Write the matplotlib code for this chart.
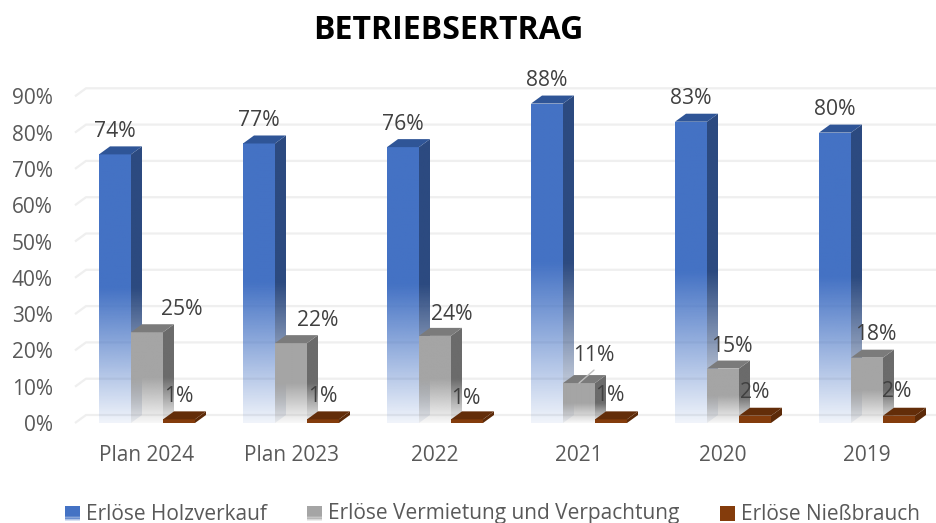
import numpy as np
import matplotlib
matplotlib.use("Agg")
import matplotlib.pyplot as plt
from matplotlib.patches import Polygon, Rectangle, Patch
from matplotlib.colors import to_rgb
from matplotlib.legend_handler import HandlerBase

plt.rcParams['font.family'] = ['Open Sans', 'DejaVu Sans']

title = "BETRIEBSERTRAG"
categories = ["Plan 2024", "Plan 2023", "2022", "2021", "2020", "2019"]
holz = [74, 77, 76, 88, 83, 80]
vermietung = [25, 22, 24, 11, 15, 18]
niessbrauch = [1, 1, 1, 1, 2, 2]
series_names = ["Erlöse Holzverkauf", "Erlöse Vermietung und Verpachtung", "Erlöse Nießbrauch"]
y_ticks = [0, 10, 20, 30, 40, 50, 60, 70, 80, 90]

# styles: front, side, top
styles = [("#4472C4", "#2C4A80", "#2F5597"),
          ("#A5A5A5", "#6B6B6B", "#7B7B7B"),
          ("#843C0C", "#5C2A08", "#632D09")]
PX_X = 144.0
PX_Y = 3.63
BAR_W = 32 / PX_X
DX = 11 / PX_X
DY = 8 / PX_Y

# label offsets in pixels, relative to the front-face top centre of each bar
off_holz = [(0, 23)] * 6
off_verm = [(35, 23), (27, 23), (17, 21), (15, 28), (9, 22), (9, 23)]
off_nies = [(0, 23), (0, 23), (-1, 21), (-1, 24), (0, 23), (-2, 24)]

W, H = 936, 523
fig = plt.figure(figsize=(W / 100, H / 100), dpi=100, facecolor="white")
ax = fig.add_axes([75 / W, 1 - 423 / H, (W - 75) / W, 363 / H])
xlim = (-0.5, (W - 75) / PX_X - 0.5)
ylim = (0, 363 / PX_Y)
grid_c = "#EFEFEF"
for v in y_ticks:
    ax.plot([xlim[0], xlim[0] + DX, xlim[1]], [v, v + DY, v + DY], color=grid_c, lw=1.6,
            zorder=1, clip_on=False, solid_capstyle="butt")


def grad_img(ax, color, x0, x1, y0, y1, v, z, clip):
    """vertical fade: solid in the upper half of the value, fading to the base"""
    n = 200
    rgb = to_rgb(color)
    img = np.zeros((n, 1, 4))
    img[..., 0], img[..., 1], img[..., 2] = rgb
    ys = np.linspace(y1, y0, n)
    frac = np.clip((ys - y0) / max(v * 0.5, 1e-6), 0, 1)
    img[:, 0, 3] = 0.08 + 0.92 * frac
    im = ax.imshow(img, extent=(x0, x1, y0, y1), aspect="auto", zorder=z, interpolation="bilinear")
    im.set_clip_path(clip)


def bar3d(ax, x0, v, sty, z, fade=True):
    front, side, top = sty
    x1 = x0 + BAR_W
    pf = Polygon([(x0, 0), (x1, 0), (x1, v), (x0, v)], closed=True, fc="none", ec="none", zorder=z)
    ps = Polygon([(x1, 0), (x1 + DX, DY), (x1 + DX, v + DY), (x1, v)], closed=True, fc="none", ec="none", zorder=z)
    ax.add_patch(pf)
    ax.add_patch(ps)
    if fade:
        grad_img(ax, side, x1, x1 + DX, 0, v + DY, v, z, ps)
        grad_img(ax, front, x0, x1, 0, v, v, z + 0.1, pf)
    else:
        ps.set_facecolor(side)
        pf.set_facecolor(front)
    ax.add_patch(Polygon([(x0, v), (x1, v), (x1 + DX, v + DY), (x0 + DX, v + DY)], closed=True,
                         fc=top, ec="none", zorder=z + 0.2))


all_vals = [holz, vermietung, niessbrauch]
for i in range(len(categories)):
    for s, vals in enumerate(all_vals):
        x0 = i - 1.5 * BAR_W + s * BAR_W
        bar3d(ax, x0, vals[i], styles[s], 3 + s + i * 0.01, fade=(s < 2))

lab_kw = dict(textcoords="offset pixels", ha="center", va="center", fontsize=15.2, color="#404040", zorder=20)
for i in range(len(categories)):
    for s, (vals, offs) in enumerate(zip(all_vals, [off_holz, off_verm, off_nies])):
        xc = i - BAR_W + s * BAR_W
        ax.annotate(f"{vals[i]}%", xy=(xc, vals[i]), xytext=offs[i], **lab_kw)

# leader line for the short bar in 2021
ax.annotate("", xy=(3, vermietung[3]), xytext=(15, 13), textcoords="offset pixels",
            arrowprops=dict(arrowstyle="-", color="#BFBFBF", lw=1, shrinkA=0, shrinkB=0), zorder=19)

ax.set_xlim(*xlim)
ax.set_ylim(*ylim)
ax.set_xticks(range(len(categories)), categories)
ax.set_yticks(y_ticks, [f"{v}%" for v in y_ticks])
ax.tick_params(axis="both", length=0, labelsize=15, labelcolor="#595959")
ax.tick_params(axis="y", pad=16)
ax.tick_params(axis="x", pad=15.5)
for sp in ax.spines.values():
    sp.set_visible(False)
ax.patch.set_alpha(0)

fig.text(448 / W, 1 - 30.5 / H, title, ha="center", va="center", fontsize=23, fontweight="bold", color="#000000")


class GradHandler(HandlerBase):
    def create_artists(self, legend, orig, xd, yd, w, h, fs, trans):
        arts = []
        n = 12
        for k in range(n):
            frac = (k + 0.5) / n
            a = 1.0 if frac > 0.35 or not orig.get_gid() else 0.1 + 0.9 * frac / 0.35
            r = Rectangle((-xd, -yd - 1 + h * k / n), w, h / n + 0.1, fc=orig.get_facecolor(), ec="none",
                          alpha=a, transform=trans)
            arts.append(r)
        return arts


handles = [Patch(fc=styles[0][0], gid="g"), Patch(fc=styles[1][0], gid="g"), Patch(fc=styles[2][0])]
leg = fig.legend(handles, series_names, ncols=3, frameon=False, fontsize=15, labelcolor="#595959",
                 handler_map={Patch: GradHandler()}, handlelength=0.72, handleheight=0.72, handletextpad=0.29,
                 columnspacing=1.95, loc="center", bbox_to_anchor=(492.5 / W, 1 - 514 / H), borderpad=0, borderaxespad=0)

fig.savefig("out.png", dpi=100)
